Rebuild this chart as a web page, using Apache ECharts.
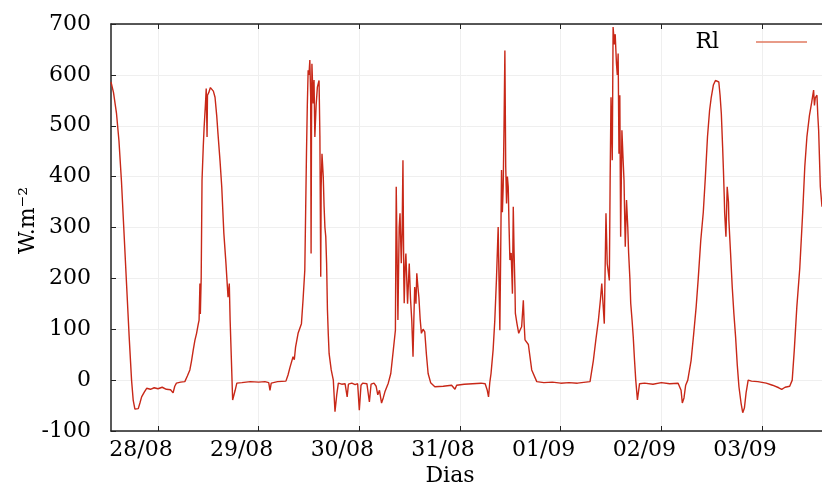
<!DOCTYPE html>
<html>
<head>
<meta charset="utf-8">
<script src="https://cdn.jsdelivr.net/npm/echarts@6/dist/echarts.min.js"></script>
<style>
  html, body { margin: 0; padding: 0; background: #fff; }
  #chart { width: 822px; height: 489px; }
</style>
</head>
<body>
<div id="chart"></div>
<script>
// hours counted from 28/08 00:00
const dayTicks = [0, 24, 48, 72, 96, 120, 144]
const dayLabels = ['28/08', '29/08', '30/08', '31/08', '01/09', '02/09', '03/09']
const yTicks = [-100, 0, 100, 200, 300, 400, 500, 600, 700]

// Rl (W.m-2)
const hours = [
  -11.2, -10.6, -9.9, -9.3, -8.7, -8.1, -7.5, -6.9, -6.3, -5.9, -5.5, -5.1, -4.7, -4.3, -3.9, -3.3, -2.7, -1.8, -0.9, 0,
  1.0, 2.0, 3.0, 3.6, 4.0, 4.4, 5.4, 6.4, 7.0, 7.6, 8.0, 8.4, 8.8, 9.2, 9.6, 9.8, 10.0, 10.1, 10.3, 10.5,
  10.8, 11.0, 11.3, 11.5, 11.7, 11.8, 12.1, 12.5, 12.8, 13.2, 13.6, 14.0, 14.3, 14.8, 15.2, 15.7, 16.2, 16.7, 17.0, 17.2,
  17.5, 17.8, 18.0, 18.4, 18.8, 20, 22, 24, 25.5, 26.4, 26.7, 27.0, 28.5, 30.5, 31.0, 31.5, 32.2, 32.5, 32.8, 33.4,
  34.2, 34.6, 35.0, 35.2, 35.4, 35.6, 35.8, 36.0, 36.2, 36.4, 36.5, 36.6, 36.7, 37.0, 37.2, 37.4, 37.7, 38.0, 38.4, 38.6,
  38.8, 38.9, 39.1, 39.4, 39.6, 39.8, 40.0, 40.2, 40.4, 40.6, 40.8, 41.3, 41.8, 42.2, 42.6, 43.0, 43.8, 44.6, 45.1, 45.4,
  46.2, 47.0, 47.6, 48.0, 48.4, 48.8, 49.8, 50.4, 50.8, 51.5, 52.0, 52.4, 52.8, 53.3, 53.7, 54.1, 54.9, 55.5, 56.1, 56.6,
  56.8, 57.0, 57.2, 57.5, 57.7, 58.0, 58.2, 58.4, 58.6, 58.7, 58.9, 59.1, 59.3, 59.5, 59.7, 59.9, 60.2, 60.5, 60.8, 61.0,
  61.2, 61.5, 61.7, 62.0, 62.2, 62.5, 62.8, 63.2, 63.6, 64.0, 64.4, 65.0, 66.0, 68.0, 70.0, 70.8, 71.2, 73.0, 75.0, 77.0,
  78.0, 78.5, 78.8, 79.1, 79.4, 79.9, 80.3, 80.7, 81.1, 81.3, 81.5, 81.7, 81.9, 82.1, 82.3, 82.5, 82.7, 82.9, 83.1, 83.3,
  83.5, 83.7, 83.9, 84.2, 84.5, 84.7, 84.9, 85.1, 85.2, 85.6, 86.0, 86.4, 86.7, 87.1, 87.3, 87.5, 88.3, 89.1, 90.3, 92,
  94, 96, 98, 100, 102, 103, 103.8, 104.4, 105.0, 105.5, 105.8, 106.1, 106.4, 106.8, 107.1, 107.6, 107.8, 108.0, 108.3, 108.5,
  108.8, 109.0, 109.3, 109.5, 109.7, 109.9, 110.1, 110.3, 110.6, 110.9, 111.1, 111.4, 111.7, 112.0, 112.2, 112.5, 112.7, 113.0, 113.3, 113.6,
  113.9, 114.3, 114.6, 114.8, 116, 118, 120, 122, 124, 124.7, 125.0, 125.4, 125.8, 126.3, 127.1, 127.7, 128.3, 128.8, 129.4, 130.0,
  130.5, 131.0, 131.5, 131.9, 132.4, 132.9, 133.3, 133.7, 134.0, 134.3, 134.6, 134.8, 135.0, 135.1, 135.4, 135.7, 136.0, 136.1, 136.5, 136.9,
  137.3, 137.7, 138.1, 138.5, 139.0, 139.4, 139.8, 140.2, 140.7, 141.5, 143, 145, 146.5, 148, 148.7, 149.5, 150.6, 151.2, 151.7, 152.3,
  153.0, 153.7, 154.2, 154.7, 155.3, 155.8, 156.3, 156.5, 156.7, 157.1, 157.3, 157.5, 157.9, 158.3
]
const rl = [
  586, 565, 525, 470, 390, 290, 190, 90, 0, -40, -57, -60, -56, -45, -33, -24, -16, -18, -15, -17,
  -14, -18, -19, -25, -12, -6, -4, -3, 8, 20, 38, 59, 78, 92, 110, 118, 190, 130, 200, 393,
  460, 497, 540, 573, 478, 560, 565, 575, 578, 568, 556, 520, 485, 430, 380, 289, 230, 163, 190, 118,
  40, -39, -42, -20, -6, -5, -3, -4, -3, -5, -20, -6, -3, -2, 10, 26, 46, 40, 65, 92,
  111, 160, 216, 330, 445, 540, 609, 600, 629, 560, 249, 500, 622, 544, 590, 478, 540, 576, 589, 480,
  203, 380, 445, 400, 341, 300, 282, 230, 138, 90, 52, 20, 0, -62, -30, -6, -8, -7, -33, -8,
  -6, -9, -7, -59, -10, -6, -7, -43, -8, -6, -12, -29, -20, -45, -35, -23, -6, 13, 59, 98,
  380, 250, 118, 300, 328, 230, 290, 432, 200, 151, 220, 249, 200, 150, 190, 229, 160, 118, 46, 120,
  183, 150, 210, 180, 163, 120, 92, 100, 95, 50, 13, -5, -13, -12, -10, -18, -10, -8, -7, -6,
  -7, -20, -33, -5, 13, 60, 118, 200, 301, 200, 98, 250, 413, 330, 380, 500, 648, 420, 347, 400,
  380, 300, 236, 250, 170, 341, 249, 183, 131, 110, 92, 100, 105, 157, 110, 79, 70, 20, -3, -5,
  -4, -6, -5, -6, -4, -3, 39, 80, 118, 160, 190, 150, 111, 328, 229, 196, 400, 556, 432, 694,
  660, 680, 622, 600, 642, 445, 560, 282, 491, 430, 393, 262, 354, 300, 250, 200, 151, 120, 85, 40,
  0, -39, -42, -7, -6, -8, -5, -7, -6, -20, -45, -35, -10, 0, 39, 90, 144, 200, 275, 330,
  400, 478, 530, 556, 580, 589, 592, 586, 560, 524, 460, 413, 360, 328, 282, 380, 350, 314, 250, 183,
  130, 85, 30, -13, -45, -64, -55, -25, 0, -2, -3, -6, -10, -15, -18, -14, -12, 0, 60, 144,
  220, 330, 420, 478, 520, 544, 570, 540, 555, 560, 520, 491, 380, 341
]

const serif = '"DejaVu Serif", "Liberation Serif", serif'
const chart = echarts.init(document.getElementById('chart'))

chart.setOption({
  animation: false,
  backgroundColor: '#fff',
  grid: {left: 111, top: 24, right: 0, bottom: 58, outerBoundsMode: 'none'},
  legend: {
    data: ['Rl'],
    right: 10,
    top: 26,
    align: 'right',
    icon: 'rect',
    itemWidth: 51,
    itemHeight: 1.5,
    itemStyle: {color: '#e07a60'},
    textStyle: {fontFamily: serif, fontSize: 22, color: '#000', padding: [0, 32, 0, 0]}
  },
  xAxis: [
    {
      type: 'value',
      min: -11.2,
      max: 158.3,
      name: 'Dias',
      nameLocation: 'middle',
      nameGap: 34,
      nameMoveOverlap: false,
      nameTextStyle: {fontFamily: serif, fontSize: 22, color: '#000', padding: [0, 33, 0, 0]},
      axisLine: {onZero: false, lineStyle: {color: '#222', width: 1.5}},
      axisTick: {inside: true, length: 5, customValues: dayTicks, lineStyle: {color: '#222'}},
      axisLabel: {
        customValues: dayTicks,
        margin: 8,
        fontFamily: serif,
        fontSize: 22,
        color: '#000',
        padding: [0, 34, 0, 0],
        formatter: v => dayLabels[dayTicks.indexOf(v)]
      },
      splitLine: {show: true, lineStyle: {color: '#efefef', width: 1}}
    },
    {
      type: 'value',
      position: 'top',
      min: -11.2,
      max: 158.3,
      axisLine: {onZero: false, lineStyle: {color: '#222', width: 1.5}},
      axisTick: {inside: true, length: 5, customValues: dayTicks, lineStyle: {color: '#222'}},
      axisLabel: {show: false},
      splitLine: {show: false}
    }
  ],
  yAxis: {
    type: 'value',
    min: -100,
    max: 700,
    interval: 100,
    name: 'W.m⁻²',
    nameLocation: 'middle',
    nameGap: 72,
    nameMoveOverlap: false,
    nameRotate: 90,
    nameTextStyle: {fontFamily: serif, fontSize: 22, color: '#000', padding: [0, 0, 0, 14]},
    axisLine: {show: true, onZero: false, lineStyle: {color: '#222', width: 1.5}},
    axisTick: {show: true, inside: true, length: 5, lineStyle: {color: '#222'}},
    axisLabel: {
      margin: 20,
      fontFamily: serif,
      fontSize: 22,
      color: '#000',
      formatter: v => (yTicks.includes(v) ? String(v) : '')
    },
    splitLine: {show: true, lineStyle: {color: '#efefef', width: 1}}
  },
  series: [
    {
      name: 'Rl',
      type: 'line',
      showSymbol: false,
      data: hours.map((h, i) => [h, rl[i]]),
      lineStyle: {color: '#c82818', width: 1.4},
      itemStyle: {color: '#c82818'}
    }
  ]
})
</script>
</body>
</html>
